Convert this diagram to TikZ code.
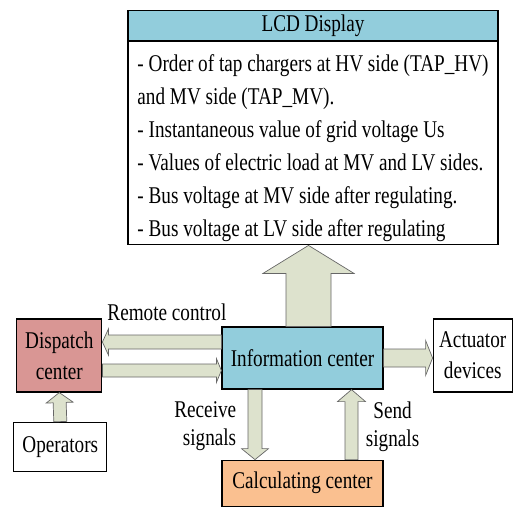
\documentclass[tikz,border=0pt]{standalone}
\usepackage{fontspec}
\setmainfont{Liberation Serif}[FakeStretch=0.8]
\usepackage{xcolor}
\usetikzlibrary{calc,positioning}
\definecolor{lcdblue}{RGB}{146,205,220}
\definecolor{dispred}{RGB}{217,150,148}
\definecolor{calcorange}{RGB}{250,192,144}
\definecolor{arrowfill}{RGB}{221,226,205}
\tikzset{
  box/.style={draw, line width=1.2pt, inner sep=0pt, text centered, align=center,
  font=\fontsize{24}{31}\selectfont},
  lbl/.style={inner sep=0pt, font=\fontsize{24}{28}\selectfont},
  fatarr/.style={draw=black!60, fill=arrowfill, line width=0.7pt, line join=miter}
}
% block arrow: start, end, half shaft, half head, head length
\newcommand{\fatarrow}[5]{%
  \coordinate (fa-s) at (#1);
  \coordinate (fa-e) at (#2);
  \coordinate (fa-h) at ($(fa-e)!#5!(fa-s)$);
  \draw[fatarr] ($(fa-s)!#3!90:(fa-e)$) -- ($(fa-h)!#3!-90:(fa-s)$)
    -- ($(fa-h)!#4!-90:(fa-s)$) -- (fa-e) -- ($(fa-h)!#4!90:(fa-s)$)
    -- ($(fa-h)!#3!90:(fa-s)$) -- ($(fa-s)!#3!-90:(fa-e)$) -- cycle;
}
\begin{document}
\begin{tikzpicture}[x=1pt, y=-1pt]
    \useasboundingbox (0,0) rectangle (513,507);
    \node (info) [box, fill=lcdblue, minimum width=161pt, minimum height=62pt] at (302.5,358)
    {Information center};
    \node (calc) [box, fill=calcorange, minimum width=161pt, minimum height=46pt, anchor=north]
    at ($(info.south)+(0,70)$) {Calculating center};
    \node (act) [box, minimum width=79pt, minimum height=73pt, anchor=west]
    at ($(info.east)+(49,-2.5)$) {Actuator\\devices};
    \node (disp) [box, fill=dispred, minimum width=85pt, minimum height=73pt, anchor=east]
    at ($(info.west)+(-119,-2.5)$) {Dispatch\\center};
    \node (ops) [box, minimum width=93pt, minimum height=49pt, anchor=north]
    at ($(disp.south)+(1,29)$) {Operators};
    \node (lcd) [box, fill=lcdblue, minimum width=370pt, minimum height=30pt, anchor=north]
    at (313,10) {LCD Display};
    \node (lcdtxt) [box, minimum width=370pt, minimum height=203pt, anchor=north,
    align=left, font=\fontsize{24}{33}\selectfont] at (lcd.south)
    {\rule{0pt}{26pt}- Order of tap chargers at HV side (TAP\_HV)\\
     and MV side (TAP\_MV).\\
     - Instantaneous value of grid voltage Us\\
     - Values of electric load at MV and LV sides.\\
     - Bus voltage at MV side after regulating.\\
     - Bus voltage at LV side after regulating};
    % arrows
    \coordinate (up) at ($(info.north)+(6,0)$);
    \fatarrow{up}{up |- lcdtxt.south}{22.5pt}{45.5pt}{28pt}
    \fatarrow{info.east}{act.west |- info.east}{9pt}{17.5pt}{7pt}
    \coordinate (rc1) at ($(info.west)+(0,-16)$);
    \fatarrow{rc1}{disp.east |- rc1}{7pt}{13pt}{6pt}
    \coordinate (rc2) at ($(disp.east)+(0,15)$);
    \fatarrow{rc2}{info.west |- rc2}{6.5pt}{12pt}{5pt}
    \coordinate (rx) at ($(info.south)+(-47.5,0)$);
    \fatarrow{rx}{rx |- calc.north}{7pt}{13.5pt}{11pt}
    \coordinate (tx) at ($(calc.north)+(49,0)$);
    \fatarrow{tx}{tx |- info.south}{6.5pt}{14pt}{12pt}
    \fatarrow{ops.north}{disp.south}{6.5pt}{13.5pt}{10pt}
    % labels
    \node (rctext) [lbl] at ($(disp.east)!0.5!(info.west)+(5,-44)$) {Remote control};
    \node (recv) [lbl, align=right, anchor=east] at ($(info.south west)+(15,37)$)
    {Receive\\signals};
    \node (send) [lbl, align=center] at ($(info.south east)+(9,37)$) {Send\\signals};
\end{tikzpicture}
\end{document}
